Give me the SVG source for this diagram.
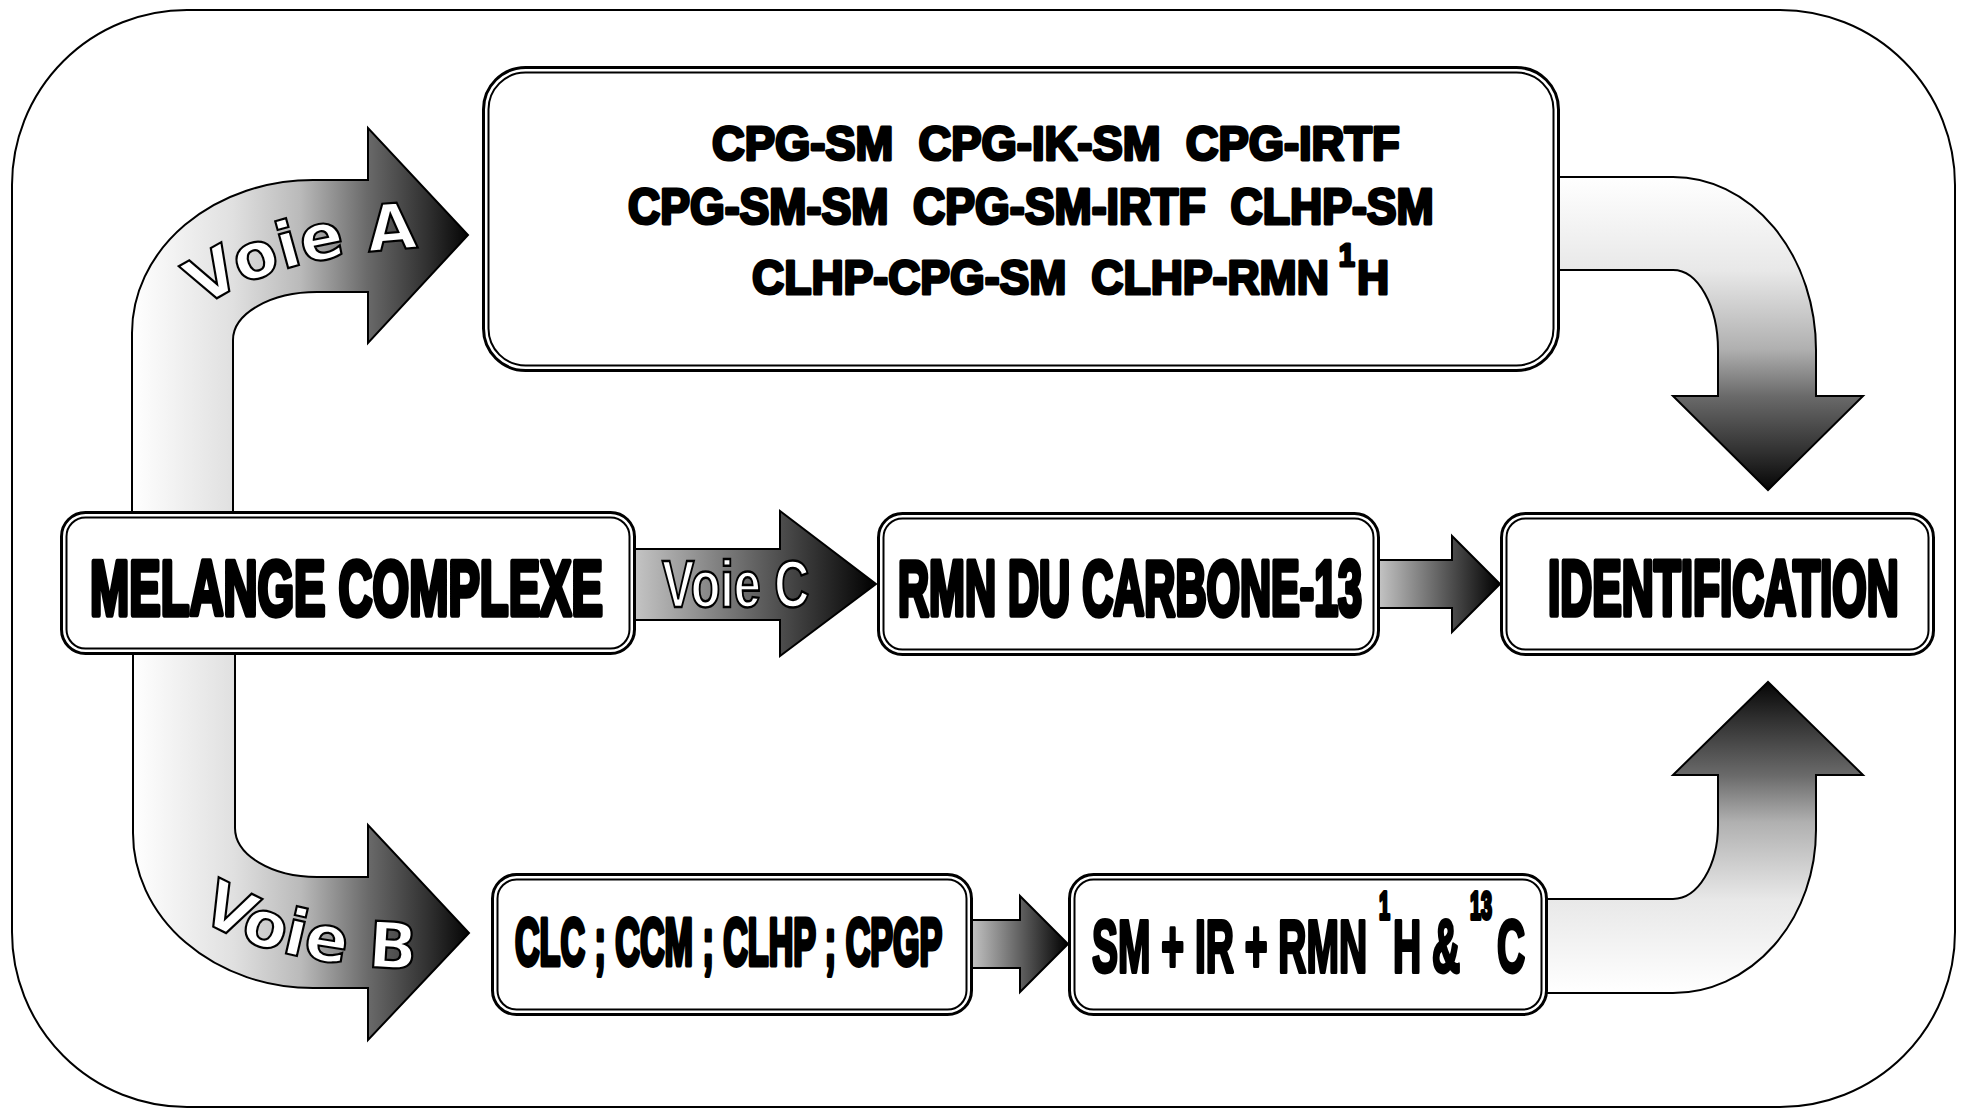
<svg xmlns="http://www.w3.org/2000/svg" width="1963" height="1111" viewBox="0 0 1963 1111">
<style>
.frame{fill:#fff;stroke:#000;stroke-width:2}
.bo{fill:#fff;stroke:#000;stroke-width:3}
.bi{fill:none;stroke:#000;stroke-width:2}
.arr{stroke:#000;stroke-width:2;stroke-linejoin:miter}
.t{font-family:"Liberation Sans",Arial,sans-serif;font-weight:700;fill:#000;stroke:#000;stroke-linejoin:round;vector-effect:non-scaling-stroke;white-space:pre}
.big{font-size:77px;stroke-width:4.4}
.mid{stroke-width:3.8}
.sm{font-size:49px;stroke-width:3}
.w{font-family:"Liberation Sans",Arial,sans-serif;font-weight:700;fill:#fff;stroke:#000;stroke-width:2.2;vector-effect:non-scaling-stroke;white-space:pre}
.v{font-family:"DejaVu Sans","Liberation Sans",sans-serif;font-weight:700;font-size:64px;fill:#fff;stroke:#000;stroke-width:2.2;white-space:pre}
</style>
<defs>
<linearGradient id="gH" x1="0" y1="0" x2="1" y2="0">
<stop offset="0" stop-color="#ffffff"/><stop offset="0.3" stop-color="#e0e0e0"/><stop offset="0.5" stop-color="#bababa"/><stop offset="0.7" stop-color="#6a6a6a"/><stop offset="0.88" stop-color="#303030"/><stop offset="1" stop-color="#050505"/>
</linearGradient>
<linearGradient id="gD" x1="0" y1="0" x2="0" y2="1">
<stop offset="0" stop-color="#ffffff"/><stop offset="0.3" stop-color="#e8e8e8"/><stop offset="0.55" stop-color="#b0b0b0"/><stop offset="0.7" stop-color="#6a6a6a"/><stop offset="0.88" stop-color="#303030"/><stop offset="1" stop-color="#050505"/>
</linearGradient>
<linearGradient id="gU" x1="0" y1="1" x2="0" y2="0">
<stop offset="0" stop-color="#ffffff"/><stop offset="0.3" stop-color="#e8e8e8"/><stop offset="0.55" stop-color="#b0b0b0"/><stop offset="0.7" stop-color="#6a6a6a"/><stop offset="0.88" stop-color="#303030"/><stop offset="1" stop-color="#050505"/>
</linearGradient>
<linearGradient id="gS" x1="0" y1="0" x2="1" y2="0">
<stop offset="0" stop-color="#c8c8c8"/><stop offset="1" stop-color="#000000"/>
</linearGradient>
<path id="pA" d="M 202 308 C 247 276, 322 250, 442 247"/>
<path id="pB" d="M 198 918 C 250 950, 320 968, 440 970"/>
</defs>

<rect id="frame" class="frame" x="12" y="10" width="1943" height="1097" rx="175"/>

<g id="connectors">
<path id="arrowA" class="arr" fill="url(#gH)" d="M 132 530 V 333 A 181 153 0 0 1 313 180 H 368 V 128 L 468 235 L 368 343 V 292 H 317 A 84 48 0 0 0 233 340 V 530 Z"/>
<path id="arrowB" class="arr" fill="url(#gH)" d="M 133 640 V 833 A 180 155 0 0 0 313 988 H 368 V 1040 L 469 933 L 368 825 V 877 H 317 A 82 49 0 0 1 235 828 V 640 Z"/>
<path id="arrowC" class="arr" fill="url(#gS)" d="M 630 549 H 780 V 511 L 876 584 L 780 656 V 620 H 630 Z"/>
<path id="arrowRI" class="arr" fill="url(#gS)" d="M 1376 560 H 1452 V 536 L 1500 584 L 1452 632 V 608 H 1376 Z"/>
<path id="arrowCS" class="arr" fill="url(#gS)" d="M 969 920 H 1020 V 896 L 1068 944 L 1020 992 V 968 H 969 Z"/>
<path id="arrowTop" class="arr" fill="url(#gD)" d="M 1550 177 H 1673 A 143 173 0 0 1 1816 350 V 396 H 1863 L 1768 490 L 1673 396 H 1718 V 350 A 45 80 0 0 0 1673 270 H 1550 Z"/>
<path id="arrowBot" class="arr" fill="url(#gU)" d="M 1540 993 H 1673 A 143 163 0 0 0 1816 830 V 775 H 1863 L 1768 682 L 1673 775 H 1718 V 825 A 45 74 0 0 1 1673 899 H 1540 Z"/>
<text class="v"><textPath href="#pA">Voie A</textPath></text>
<text class="v"><textPath href="#pB">Voie B</textPath></text>
<text class="w" transform="matrix(0.724 0 0 1 662 0)" x="0" y="607" font-size="67">Voie C</text>
</g>

<g id="node-top">
<rect class="bo" x="483.5" y="67.5" width="1075" height="303" rx="42"/>
<rect class="bi" x="488.5" y="72.5" width="1065" height="293" rx="37"/>
<text class="t sm" transform="matrix(0.9257 0 0 1 712 0)" x="0" y="160">CPG-SM  CPG-IK-SM  CPG-IRTF</text>
<text class="t sm" transform="matrix(0.911 0 0 1 628 0)" x="0" y="224">CPG-SM-SM  CPG-SM-IRTF  CLHP-SM</text>
<text class="t sm" transform="matrix(0.91 0 0 1 752 0)"><tspan x="0" y="294">CLHP-CPG-SM  CLHP-RMN </tspan><tspan x="645" y="266" font-size="31">1</tspan><tspan x="664.8" y="294">H</tspan></text>
</g>

<g id="node-melange">
<rect class="bo" x="61.5" y="512.5" width="573" height="141" rx="24"/>
<rect class="bi" x="66.5" y="517.5" width="563" height="131" rx="19"/>
<text class="t big" transform="matrix(0.6118 0 0 1 90 0)" x="0" y="615">MELANGE COMPLEXE</text>
</g>

<g id="node-rmn">
<rect class="bo" x="878.5" y="513.5" width="500" height="141" rx="24"/>
<rect class="bi" x="883.5" y="518.5" width="490" height="131" rx="19"/>
<text class="t big" transform="matrix(0.5592 0 0 1 898 0)" x="0" y="615">RMN DU CARBONE-13</text>
</g>

<g id="node-identification">
<rect class="bo" x="1501.5" y="513.5" width="432" height="141" rx="24"/>
<rect class="bi" x="1506.5" y="518.5" width="422" height="131" rx="19"/>
<text class="t big" transform="matrix(0.5747 0 0 1 1548 0)" x="0" y="615">IDENTIFICATION</text>
</g>

<g id="node-clc">
<rect class="bo" x="492.5" y="874.5" width="479" height="140" rx="24"/>
<rect class="bi" x="497.5" y="879.5" width="469" height="130" rx="19"/>
<text class="t mid" transform="matrix(0.5165 0 0 1 515 0)" x="0" y="965" font-size="66">CLC ; CCM ; CLHP ; CPGP</text>
</g>

<g id="node-sm">
<rect class="bo" x="1069.5" y="874.5" width="477" height="140" rx="24"/>
<rect class="bi" x="1074.5" y="879.5" width="467" height="130" rx="19"/>
<text class="t mid" transform="matrix(0.52 0 0 1 1092 0)" font-size="75"><tspan x="0" y="972">SM + IR + RMN </tspan><tspan x="551.9" y="919" font-size="38">1</tspan><tspan x="578.8" y="972">H &amp; </tspan><tspan x="726.9" y="919" font-size="38">13</tspan><tspan x="778.8" y="972">C</tspan></text>
</g>
</svg>
